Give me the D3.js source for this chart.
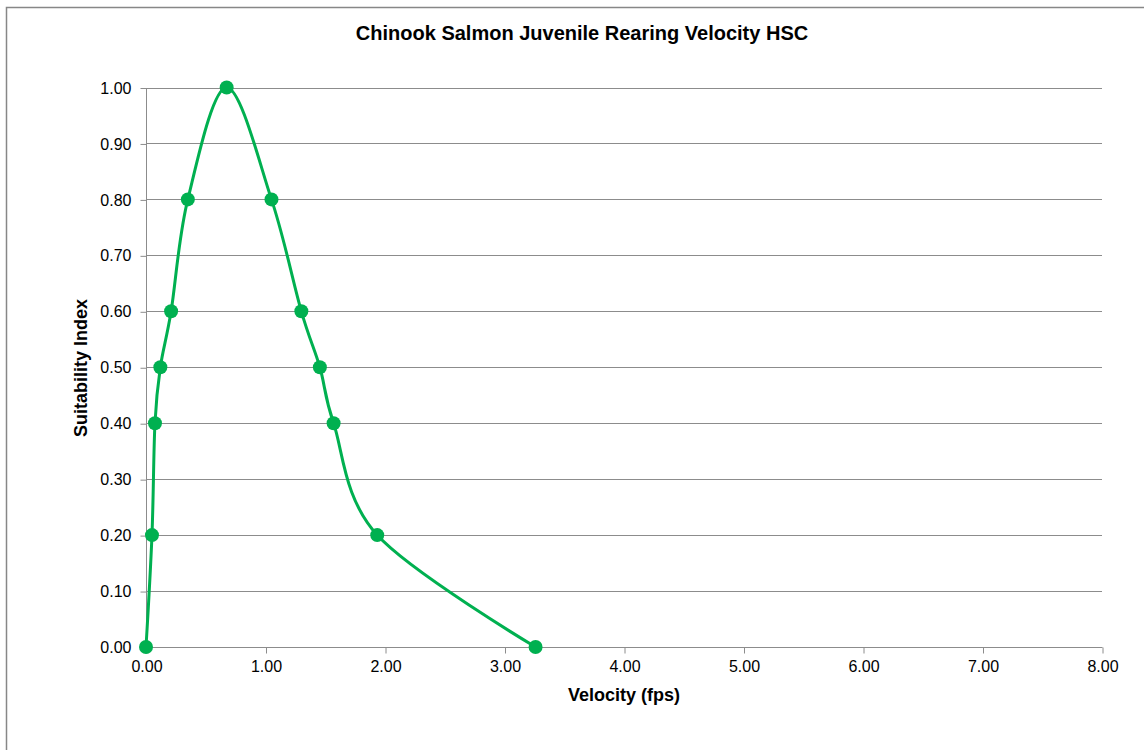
<!DOCTYPE html>
<html>
<head>
<meta charset="utf-8">
<script src="https://cdn.jsdelivr.net/npm/d3@7"></script>
<style>
  html, body { margin: 0; padding: 0; background: #fff; }
  svg { display: block; }
  text { font-family: "Liberation Sans", Arial, sans-serif; fill: #000; }
</style>
</head>
<body>
<svg id="chart" width="1144" height="750"></svg>
<script>
const velocity = [0, 0.05, 0.075, 0.12, 0.21, 0.35, 0.675, 1.05, 1.30, 1.455, 1.57, 1.935, 3.26];
const suitability = [0, 0.2, 0.4, 0.5, 0.6, 0.8, 1.0, 0.8, 0.6, 0.5, 0.4, 0.2, 0];
const xTicks = [0, 1, 2, 3, 4, 5, 6, 7, 8];
const yTicks = [0, 0.1, 0.2, 0.3, 0.4, 0.5, 0.6, 0.7, 0.8, 0.9, 1.0];
const title = "Chinook Salmon Juvenile Rearing Velocity HSC";
const xTitle = "Velocity (fps)";
const yTitle = "Suitability Index";

const svg = d3.select("#chart");
const plotLeft = 146, plotRight = 1102, plotTop = 87.5, plotBottom = 647;
const FONT = "Liberation Sans, Arial, sans-serif";

// outer frame
svg.append("rect").attr("x", 6.5).attr("y", 7.5).attr("width", 1150).attr("height", 760)
  .attr("fill", "#fff").attr("stroke", "#878787").attr("stroke-width", 1.5);

const x = d3.scaleLinear().domain([0, 8]).range([plotLeft, plotRight]);
const y = d3.scaleLinear().domain([0, 1]).range([plotBottom, plotTop]);

// gridlines
svg.append("g").selectAll("line").data(yTicks.slice(1)).join("line")
  .attr("x1", plotLeft).attr("x2", plotRight)
  .attr("y1", d => Math.round(y(d)) + 0.5).attr("y2", d => Math.round(y(d)) + 0.5)
  .attr("stroke", "#8c8c8c").attr("stroke-width", 1);

// y axis
const yAxis = d3.axisLeft(y).tickValues(yTicks).tickFormat(d3.format(".2f")).tickSize(6).tickPadding(9);
const gy = svg.append("g").attr("transform", `translate(${plotLeft + 0.5},0.5)`).call(yAxis);
gy.select(".domain").attr("stroke", "#8c8c8c").attr("d", `M0,${plotTop}V${plotBottom}`);
gy.selectAll(".tick line").attr("stroke", "#8c8c8c");
gy.selectAll(".tick text").attr("font-size", 16).attr("font-family", FONT).attr("fill", "#000");

// x axis
const xAxis = d3.axisBottom(x).tickValues(xTicks).tickFormat(d3.format(".2f")).tickSize(6).tickPadding(7);
const gx = svg.append("g").attr("transform", `translate(0.5,${Math.round(plotBottom) + 0.5})`).call(xAxis);
gx.select(".domain").attr("stroke", "#8c8c8c").attr("d", `M${plotLeft},0H${plotRight}`);
gx.selectAll(".tick line").attr("stroke", "#8c8c8c");
gx.selectAll(".tick text").attr("font-size", 16).attr("font-family", FONT).attr("fill", "#000");

// data
const data = velocity.map((v, i) => ({ v, s: suitability[i] }));
const line = d3.line().x(d => x(d.v)).y(d => y(d.s)).curve(d3.curveCatmullRom.alpha(0));
svg.append("path").datum(data).attr("d", line)
  .attr("fill", "none").attr("stroke", "#00B050").attr("stroke-width", 3);
svg.append("g").selectAll("circle").data(data).join("circle")
  .attr("cx", d => x(d.v)).attr("cy", d => y(d.s)).attr("r", 7)
  .attr("fill", "#00B050");

// titles
svg.append("text").attr("x", 582).attr("y", 40).attr("text-anchor", "middle")
  .attr("font-size", 20).attr("font-weight", "bold").text(title);
svg.append("text").attr("x", 624).attr("y", 701).attr("text-anchor", "middle")
  .attr("font-size", 18).attr("font-weight", "bold").text(xTitle);
svg.append("text").attr("transform", "translate(87,368) rotate(-90)").attr("text-anchor", "middle")
  .attr("font-size", 18).attr("font-weight", "bold").text(yTitle);
</script>
</body>
</html>
